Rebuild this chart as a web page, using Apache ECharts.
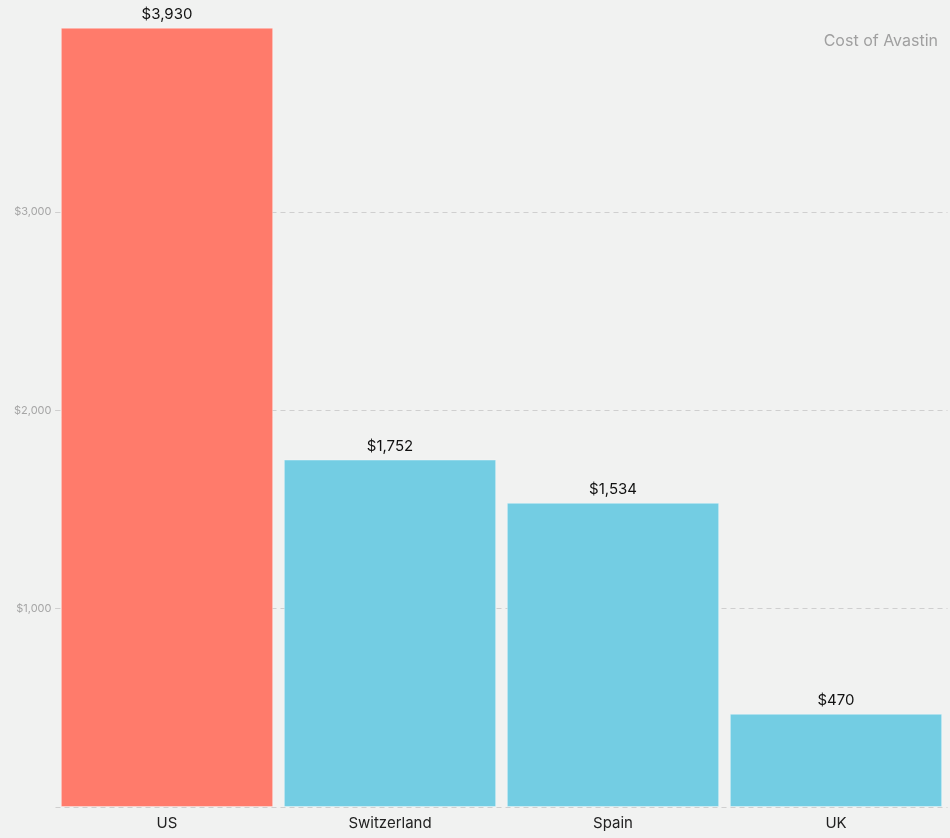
<!DOCTYPE html>
<html>
<head>
<meta charset="utf-8">
<script src="https://cdn.jsdelivr.net/npm/echarts@6/dist/echarts.min.js"></script>
<style>
html,body{margin:0;padding:0;background:#f1f2f1;}
#chart{width:950px;height:838px;}
</style>
</head>
<body>
<div id="chart"></div>
<script>
const categories = ['US', 'Switzerland', 'Spain', 'UK'];
const costs = [3930, 1752, 1534, 470];
const barColors = ['#ff7b6b', '#73cde3', '#73cde3', '#73cde3'];
const yTicks = [1000, 2000, 3000];
const titleText = 'Cost of Avastin';

const fmt = v => '$' + v.toLocaleString('en-US');

const chart = echarts.init(document.getElementById('chart'), null, {renderer: 'canvas'});
chart.setOption({
  backgroundColor: '#f1f2f1',
  animation: false,
  textStyle: {fontFamily: 'Inter, Roboto, sans-serif'},
  title: {
    text: titleText,
    right: 7,
    top: 28,
    textStyle: {color: '#a0a0a0', fontSize: 16, fontWeight: 'normal', fontFamily: 'Inter, Roboto, sans-serif'}
  },
  grid: {left: 55.5, right: 2.5, top: 0, bottom: 31, containLabel: false},
  xAxis: {
    type: 'category',
    data: categories,
    axisLine: {show: false},
    axisTick: {show: false},
    axisLabel: {color: '#222', fontSize: 15, margin: 9}
  },
  yAxis: {
    type: 'value',
    min: 0,
    max: 4070,
    interval: 1000,
    axisLine: {show: false},
    axisTick: {show: true, inside: true, length: 4, customValues: yTicks, lineStyle: {color: '#bbb'}},
    axisLabel: {
      color: '#a6a6a6', fontSize: 11, margin: 4,
      customValues: yTicks,
      formatter: v => fmt(v)
    },
    splitLine: {show: false}
  },
  series: [
    {
      type: 'line',
      data: [],
      z: 1,
      silent: true,
      markLine: {
        silent: true,
        z: 1,
        symbol: ['none', 'none'],
        label: {show: false},
        lineStyle: {color: '#cfcfcf', type: [5, 4], width: 1},
        data: yTicks.map(v => ({yAxis: v}))
      }
    },
    {
      type: 'bar',
      z: 3,
      data: costs.map((v, i) => ({value: v, itemStyle: {color: barColors[i]}})),
      barCategoryGap: '4.8%',
      itemStyle: {borderColor: 'rgba(255,255,255,0.35)', borderWidth: 1},
      label: {
        show: true, position: 'top', distance: 6,
        color: '#111', fontSize: 15,
        formatter: p => fmt(p.value)
      },
      markLine: {
        silent: true,
        z: 5,
        symbol: ['none', 'none'],
        label: {show: false},
        lineStyle: {color: '#cfcfcf', type: [5, 4], width: 1},
        data: [{yAxis: 0}]
      }
    }
  ]
});
</script>
</body>
</html>
